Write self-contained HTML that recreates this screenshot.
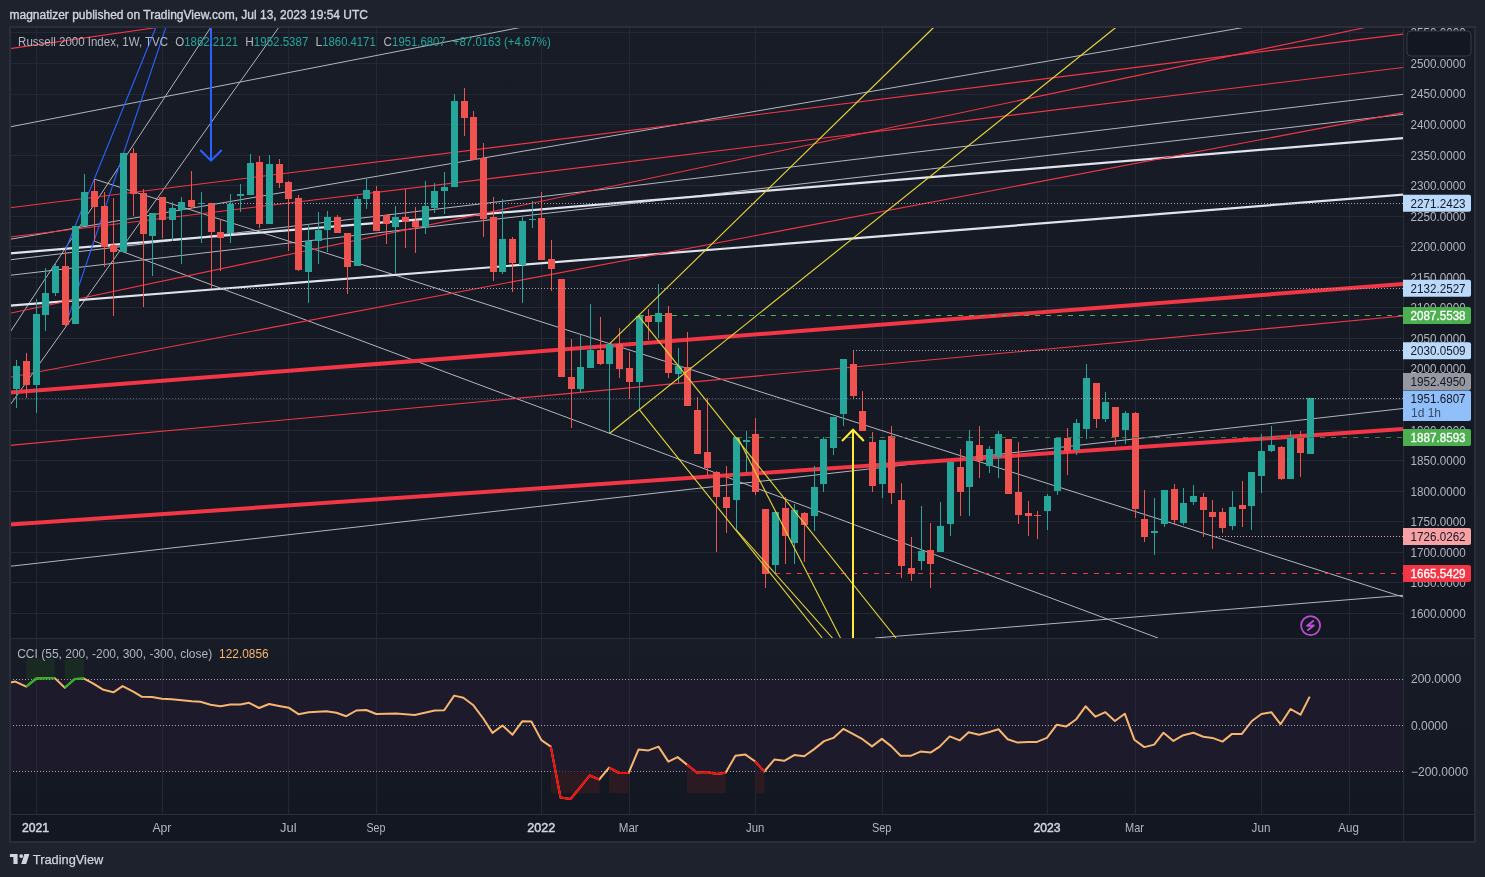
<!DOCTYPE html>
<html><head><meta charset="utf-8"><title>Russell 2000 Index chart</title>
<style>html,body{margin:0;padding:0;background:#1e222d;width:1485px;height:877px;overflow:hidden}svg{display:block}</style>
</head><body>
<svg width="1485" height="877" viewBox="0 0 1485 877"><rect x="0" y="0" width="1485" height="877" fill="#1e222d"/>
<defs><linearGradient id="gm" x1="0" y1="0" x2="0" y2="1"><stop offset="0" stop-color="#181c27"/><stop offset="1" stop-color="#131722"/></linearGradient></defs>
<rect x="9" y="26" width="1466" height="816" fill="#131722"/>
<rect x="10" y="27" width="1465" height="611" fill="url(#gm)"/>
<rect x="10" y="639" width="1465" height="175" fill="url(#gm)"/>
<rect x="10" y="679.1" width="1393" height="92.2" fill="#1d1a2c"/>
<g stroke="#242834" stroke-width="1" shape-rendering="crispEdges">
<line x1="36.5" y1="27" x2="36.5" y2="638"/>
<line x1="36.5" y1="639" x2="36.5" y2="814"/>
<line x1="162.5" y1="27" x2="162.5" y2="638"/>
<line x1="162.5" y1="639" x2="162.5" y2="814"/>
<line x1="288.5" y1="27" x2="288.5" y2="638"/>
<line x1="288.5" y1="639" x2="288.5" y2="814"/>
<line x1="376.5" y1="27" x2="376.5" y2="638"/>
<line x1="376.5" y1="639" x2="376.5" y2="814"/>
<line x1="541.5" y1="27" x2="541.5" y2="638"/>
<line x1="541.5" y1="639" x2="541.5" y2="814"/>
<line x1="629.5" y1="27" x2="629.5" y2="638"/>
<line x1="629.5" y1="639" x2="629.5" y2="814"/>
<line x1="755.5" y1="27" x2="755.5" y2="638"/>
<line x1="755.5" y1="639" x2="755.5" y2="814"/>
<line x1="882.5" y1="27" x2="882.5" y2="638"/>
<line x1="882.5" y1="639" x2="882.5" y2="814"/>
<line x1="1047.5" y1="27" x2="1047.5" y2="638"/>
<line x1="1047.5" y1="639" x2="1047.5" y2="814"/>
<line x1="1135.5" y1="27" x2="1135.5" y2="638"/>
<line x1="1135.5" y1="639" x2="1135.5" y2="814"/>
<line x1="1261.5" y1="27" x2="1261.5" y2="638"/>
<line x1="1261.5" y1="639" x2="1261.5" y2="814"/>
<line x1="1349.5" y1="27" x2="1349.5" y2="638"/>
<line x1="1349.5" y1="639" x2="1349.5" y2="814"/>
<line x1="10" y1="613.5" x2="1403" y2="613.5"/>
<line x1="10" y1="582.5" x2="1403" y2="582.5"/>
<line x1="10" y1="552.5" x2="1403" y2="552.5"/>
<line x1="10" y1="521.5" x2="1403" y2="521.5"/>
<line x1="10" y1="491.5" x2="1403" y2="491.5"/>
<line x1="10" y1="460.5" x2="1403" y2="460.5"/>
<line x1="10" y1="430.5" x2="1403" y2="430.5"/>
<line x1="10" y1="399.5" x2="1403" y2="399.5"/>
<line x1="10" y1="369.5" x2="1403" y2="369.5"/>
<line x1="10" y1="338.5" x2="1403" y2="338.5"/>
<line x1="10" y1="307.5" x2="1403" y2="307.5"/>
<line x1="10" y1="277.5" x2="1403" y2="277.5"/>
<line x1="10" y1="246.5" x2="1403" y2="246.5"/>
<line x1="10" y1="216.5" x2="1403" y2="216.5"/>
<line x1="10" y1="185.5" x2="1403" y2="185.5"/>
<line x1="10" y1="155.5" x2="1403" y2="155.5"/>
<line x1="10" y1="124.5" x2="1403" y2="124.5"/>
<line x1="10" y1="94.5" x2="1403" y2="94.5"/>
<line x1="10" y1="63.5" x2="1403" y2="63.5"/>
<line x1="10" y1="32.5" x2="1403" y2="32.5"/>
</g>
<defs><clipPath id="mp"><rect x="10" y="27" width="1393" height="611"/></clipPath><clipPath id="cp"><rect x="10" y="639" width="1393" height="175"/></clipPath></defs>
<g clip-path="url(#mp)">
<line x1="10.0" y1="126.9" x2="520.0" y2="27.5" stroke="#b2b5be" stroke-width="1" />
<line x1="10.0" y1="239.3" x2="1243.4" y2="27.5" stroke="#b2b5be" stroke-width="1" />
<line x1="10.0" y1="259.8" x2="1403.0" y2="94.3" stroke="#b2b5be" stroke-width="1" />
<line x1="10.0" y1="275.3" x2="1403.0" y2="114.4" stroke="#b2b5be" stroke-width="1" />
<line x1="10.0" y1="332.3" x2="211.0" y2="27.0" stroke="#b2b5be" stroke-width="1" />
<line x1="10.0" y1="405.2" x2="278.8" y2="27.4" stroke="#b2b5be" stroke-width="1" />
<line x1="94.1" y1="179.0" x2="1403.0" y2="597.0" stroke="#b2b5be" stroke-width="1" />
<line x1="94.1" y1="241.0" x2="1158.0" y2="638.0" stroke="#b2b5be" stroke-width="1" />
<line x1="10.0" y1="566.3" x2="1403.0" y2="408.5" stroke="#b2b5be" stroke-width="1" />
<line x1="875.0" y1="638.0" x2="1403.0" y2="595.3" stroke="#b2b5be" stroke-width="1" />
<line x1="10.0" y1="253.3" x2="1403.0" y2="138.1" stroke="#e0e3eb" stroke-width="2.2" />
<line x1="10.0" y1="305.6" x2="1403.0" y2="194.6" stroke="#e0e3eb" stroke-width="2.2" />
<line x1="10.0" y1="48.6" x2="160.5" y2="27.0" stroke="#f23645" stroke-width="1.1" />
<line x1="10.0" y1="207.7" x2="1403.0" y2="34.1" stroke="#f23645" stroke-width="1.1" />
<line x1="10.0" y1="237.0" x2="1403.0" y2="67.5" stroke="#f23645" stroke-width="1.1" />
<line x1="10.0" y1="313.3" x2="1366.6" y2="27.2" stroke="#f23645" stroke-width="1.1" />
<line x1="10.0" y1="377.3" x2="1403.0" y2="112.6" stroke="#f23645" stroke-width="1.1" />
<line x1="10.0" y1="445.4" x2="1403.0" y2="316.0" stroke="#f23645" stroke-width="1.1" />
<line x1="10.0" y1="392.6" x2="1403.0" y2="284.0" stroke="#f23645" stroke-width="4" />
<line x1="10.0" y1="524.6" x2="1403.0" y2="429.0" stroke="#f23645" stroke-width="4" />
<line x1="65.4" y1="250.0" x2="155.9" y2="27.5" stroke="#2962ff" stroke-width="1.1" />
<line x1="65.4" y1="326.0" x2="165.8" y2="27.5" stroke="#2962ff" stroke-width="1.1" />
<line x1="211.0" y1="27.0" x2="211.0" y2="160.0" stroke="#2962ff" stroke-width="2" />
<polyline points="200.3,150 211,160.6 221.7,150" fill="none" stroke="#2962ff" stroke-width="2"/>
</g>
<rect x="16" y="360" width="1" height="48" fill="#26a69a"/>
<rect x="13" y="366" width="7" height="23" fill="#26a69a"/>
<rect x="26" y="353" width="1" height="45" fill="#ef5350"/>
<rect x="23" y="361" width="7" height="24" fill="#ef5350"/>
<rect x="36" y="299" width="1" height="114" fill="#26a69a"/>
<rect x="33" y="314" width="7" height="71" fill="#26a69a"/>
<rect x="45" y="268" width="1" height="63" fill="#26a69a"/>
<rect x="42" y="293" width="7" height="22" fill="#26a69a"/>
<rect x="55" y="263" width="1" height="33" fill="#26a69a"/>
<rect x="52" y="266" width="7" height="27" fill="#26a69a"/>
<rect x="65" y="250" width="1" height="76" fill="#ef5350"/>
<rect x="62" y="266" width="7" height="59" fill="#ef5350"/>
<rect x="75" y="226" width="1" height="98" fill="#26a69a"/>
<rect x="72" y="226" width="7" height="98" fill="#26a69a"/>
<rect x="84" y="174" width="1" height="52" fill="#26a69a"/>
<rect x="81" y="192" width="7" height="34" fill="#26a69a"/>
<rect x="94" y="179" width="1" height="62" fill="#ef5350"/>
<rect x="91" y="191" width="7" height="16" fill="#ef5350"/>
<rect x="104" y="192" width="1" height="75" fill="#ef5350"/>
<rect x="101" y="206" width="7" height="41" fill="#ef5350"/>
<rect x="113" y="198" width="1" height="118" fill="#ef5350"/>
<rect x="110" y="245" width="7" height="7" fill="#ef5350"/>
<rect x="123" y="153" width="1" height="99" fill="#26a69a"/>
<rect x="120" y="153" width="7" height="99" fill="#26a69a"/>
<rect x="133" y="148" width="1" height="68" fill="#ef5350"/>
<rect x="130" y="153" width="7" height="41" fill="#ef5350"/>
<rect x="143" y="189" width="1" height="118" fill="#ef5350"/>
<rect x="140" y="193" width="7" height="41" fill="#ef5350"/>
<rect x="152" y="213" width="1" height="63" fill="#26a69a"/>
<rect x="149" y="213" width="7" height="23" fill="#26a69a"/>
<rect x="162" y="197" width="1" height="41" fill="#ef5350"/>
<rect x="159" y="197" width="7" height="23" fill="#ef5350"/>
<rect x="172" y="202" width="1" height="39" fill="#26a69a"/>
<rect x="169" y="208" width="7" height="12" fill="#26a69a"/>
<rect x="181" y="197" width="1" height="67" fill="#26a69a"/>
<rect x="178" y="202" width="7" height="8" fill="#26a69a"/>
<rect x="191" y="171" width="1" height="38" fill="#ef5350"/>
<rect x="188" y="200" width="7" height="7" fill="#ef5350"/>
<rect x="201" y="192" width="1" height="51" fill="#26a69a"/>
<rect x="198" y="203" width="7" height="1" fill="#26a69a"/>
<rect x="211" y="203" width="1" height="85" fill="#ef5350"/>
<rect x="208" y="203" width="7" height="29" fill="#ef5350"/>
<rect x="220" y="219" width="1" height="52" fill="#ef5350"/>
<rect x="217" y="232" width="7" height="6" fill="#ef5350"/>
<rect x="230" y="194" width="1" height="49" fill="#26a69a"/>
<rect x="227" y="204" width="7" height="29" fill="#26a69a"/>
<rect x="240" y="184" width="1" height="28" fill="#26a69a"/>
<rect x="237" y="194" width="7" height="2" fill="#26a69a"/>
<rect x="250" y="154" width="1" height="41" fill="#26a69a"/>
<rect x="247" y="163" width="7" height="32" fill="#26a69a"/>
<rect x="259" y="156" width="1" height="72" fill="#ef5350"/>
<rect x="256" y="162" width="7" height="62" fill="#ef5350"/>
<rect x="269" y="155" width="1" height="69" fill="#26a69a"/>
<rect x="266" y="164" width="7" height="60" fill="#26a69a"/>
<rect x="279" y="159" width="1" height="29" fill="#ef5350"/>
<rect x="276" y="164" width="7" height="19" fill="#ef5350"/>
<rect x="288" y="181" width="1" height="70" fill="#ef5350"/>
<rect x="285" y="182" width="7" height="17" fill="#ef5350"/>
<rect x="298" y="195" width="1" height="76" fill="#ef5350"/>
<rect x="295" y="198" width="7" height="72" fill="#ef5350"/>
<rect x="308" y="224" width="1" height="79" fill="#26a69a"/>
<rect x="305" y="241" width="7" height="31" fill="#26a69a"/>
<rect x="318" y="212" width="1" height="52" fill="#26a69a"/>
<rect x="315" y="230" width="7" height="11" fill="#26a69a"/>
<rect x="327" y="211" width="1" height="41" fill="#26a69a"/>
<rect x="324" y="217" width="7" height="13" fill="#26a69a"/>
<rect x="337" y="215" width="1" height="18" fill="#ef5350"/>
<rect x="334" y="217" width="7" height="16" fill="#ef5350"/>
<rect x="347" y="233" width="1" height="61" fill="#ef5350"/>
<rect x="344" y="233" width="7" height="34" fill="#ef5350"/>
<rect x="357" y="196" width="1" height="70" fill="#26a69a"/>
<rect x="354" y="199" width="7" height="67" fill="#26a69a"/>
<rect x="366" y="179" width="1" height="30" fill="#26a69a"/>
<rect x="363" y="190" width="7" height="9" fill="#26a69a"/>
<rect x="376" y="186" width="1" height="45" fill="#ef5350"/>
<rect x="373" y="191" width="7" height="40" fill="#ef5350"/>
<rect x="386" y="215" width="1" height="29" fill="#ef5350"/>
<rect x="383" y="215" width="7" height="9" fill="#ef5350"/>
<rect x="395" y="206" width="1" height="68" fill="#26a69a"/>
<rect x="392" y="217" width="7" height="10" fill="#26a69a"/>
<rect x="405" y="189" width="1" height="59" fill="#ef5350"/>
<rect x="402" y="217" width="7" height="5" fill="#ef5350"/>
<rect x="415" y="207" width="1" height="46" fill="#ef5350"/>
<rect x="412" y="221" width="7" height="6" fill="#ef5350"/>
<rect x="425" y="181" width="1" height="53" fill="#26a69a"/>
<rect x="422" y="206" width="7" height="21" fill="#26a69a"/>
<rect x="434" y="183" width="1" height="30" fill="#26a69a"/>
<rect x="431" y="191" width="7" height="17" fill="#26a69a"/>
<rect x="444" y="172" width="1" height="42" fill="#26a69a"/>
<rect x="441" y="187" width="7" height="4" fill="#26a69a"/>
<rect x="454" y="94" width="1" height="93" fill="#26a69a"/>
<rect x="451" y="101" width="7" height="86" fill="#26a69a"/>
<rect x="464" y="88" width="1" height="48" fill="#ef5350"/>
<rect x="461" y="101" width="7" height="17" fill="#ef5350"/>
<rect x="473" y="111" width="1" height="49" fill="#ef5350"/>
<rect x="470" y="117" width="7" height="43" fill="#ef5350"/>
<rect x="483" y="143" width="1" height="94" fill="#ef5350"/>
<rect x="480" y="158" width="7" height="61" fill="#ef5350"/>
<rect x="493" y="197" width="1" height="84" fill="#ef5350"/>
<rect x="490" y="217" width="7" height="55" fill="#ef5350"/>
<rect x="502" y="199" width="1" height="75" fill="#26a69a"/>
<rect x="499" y="239" width="7" height="33" fill="#26a69a"/>
<rect x="512" y="237" width="1" height="55" fill="#ef5350"/>
<rect x="509" y="239" width="7" height="24" fill="#ef5350"/>
<rect x="522" y="217" width="1" height="86" fill="#26a69a"/>
<rect x="519" y="221" width="7" height="44" fill="#26a69a"/>
<rect x="532" y="201" width="1" height="27" fill="#26a69a"/>
<rect x="529" y="219" width="7" height="1" fill="#26a69a"/>
<rect x="541" y="192" width="1" height="68" fill="#ef5350"/>
<rect x="538" y="218" width="7" height="42" fill="#ef5350"/>
<rect x="551" y="240" width="1" height="51" fill="#ef5350"/>
<rect x="548" y="259" width="7" height="10" fill="#ef5350"/>
<rect x="561" y="279" width="1" height="98" fill="#ef5350"/>
<rect x="558" y="279" width="7" height="98" fill="#ef5350"/>
<rect x="571" y="339" width="1" height="89" fill="#ef5350"/>
<rect x="568" y="377" width="7" height="12" fill="#ef5350"/>
<rect x="580" y="335" width="1" height="57" fill="#26a69a"/>
<rect x="577" y="367" width="7" height="22" fill="#26a69a"/>
<rect x="590" y="304" width="1" height="64" fill="#26a69a"/>
<rect x="587" y="350" width="7" height="18" fill="#26a69a"/>
<rect x="600" y="317" width="1" height="48" fill="#ef5350"/>
<rect x="597" y="350" width="7" height="14" fill="#ef5350"/>
<rect x="609" y="343" width="1" height="91" fill="#26a69a"/>
<rect x="606" y="344" width="7" height="20" fill="#26a69a"/>
<rect x="619" y="328" width="1" height="50" fill="#ef5350"/>
<rect x="616" y="344" width="7" height="25" fill="#ef5350"/>
<rect x="629" y="352" width="1" height="47" fill="#ef5350"/>
<rect x="626" y="368" width="7" height="14" fill="#ef5350"/>
<rect x="639" y="316" width="1" height="94" fill="#26a69a"/>
<rect x="636" y="316" width="7" height="66" fill="#26a69a"/>
<rect x="648" y="309" width="1" height="31" fill="#ef5350"/>
<rect x="645" y="316" width="7" height="6" fill="#ef5350"/>
<rect x="658" y="284" width="1" height="54" fill="#26a69a"/>
<rect x="655" y="313" width="7" height="9" fill="#26a69a"/>
<rect x="668" y="306" width="1" height="72" fill="#ef5350"/>
<rect x="665" y="313" width="7" height="60" fill="#ef5350"/>
<rect x="678" y="348" width="1" height="35" fill="#26a69a"/>
<rect x="675" y="366" width="7" height="8" fill="#26a69a"/>
<rect x="687" y="332" width="1" height="74" fill="#ef5350"/>
<rect x="684" y="367" width="7" height="39" fill="#ef5350"/>
<rect x="697" y="397" width="1" height="57" fill="#ef5350"/>
<rect x="694" y="410" width="7" height="44" fill="#ef5350"/>
<rect x="707" y="398" width="1" height="78" fill="#ef5350"/>
<rect x="704" y="452" width="7" height="16" fill="#ef5350"/>
<rect x="716" y="471" width="1" height="81" fill="#ef5350"/>
<rect x="713" y="472" width="7" height="25" fill="#ef5350"/>
<rect x="726" y="466" width="1" height="67" fill="#ef5350"/>
<rect x="723" y="497" width="7" height="11" fill="#ef5350"/>
<rect x="736" y="437" width="1" height="93" fill="#26a69a"/>
<rect x="733" y="437" width="7" height="63" fill="#26a69a"/>
<rect x="746" y="431" width="1" height="42" fill="#26a69a"/>
<rect x="743" y="440" width="7" height="2" fill="#26a69a"/>
<rect x="755" y="418" width="1" height="77" fill="#ef5350"/>
<rect x="752" y="434" width="7" height="58" fill="#ef5350"/>
<rect x="765" y="509" width="1" height="79" fill="#ef5350"/>
<rect x="762" y="509" width="7" height="65" fill="#ef5350"/>
<rect x="775" y="512" width="1" height="61" fill="#26a69a"/>
<rect x="772" y="512" width="7" height="53" fill="#26a69a"/>
<rect x="785" y="497" width="1" height="67" fill="#ef5350"/>
<rect x="782" y="508" width="7" height="28" fill="#ef5350"/>
<rect x="794" y="504" width="1" height="60" fill="#26a69a"/>
<rect x="791" y="510" width="7" height="33" fill="#26a69a"/>
<rect x="804" y="512" width="1" height="50" fill="#ef5350"/>
<rect x="801" y="513" width="7" height="12" fill="#ef5350"/>
<rect x="814" y="466" width="1" height="65" fill="#26a69a"/>
<rect x="811" y="487" width="7" height="29" fill="#26a69a"/>
<rect x="823" y="437" width="1" height="55" fill="#26a69a"/>
<rect x="820" y="439" width="7" height="45" fill="#26a69a"/>
<rect x="833" y="417" width="1" height="38" fill="#26a69a"/>
<rect x="830" y="417" width="7" height="31" fill="#26a69a"/>
<rect x="843" y="359" width="1" height="67" fill="#26a69a"/>
<rect x="840" y="359" width="7" height="55" fill="#26a69a"/>
<rect x="853" y="350" width="1" height="48" fill="#ef5350"/>
<rect x="850" y="364" width="7" height="32" fill="#ef5350"/>
<rect x="862" y="391" width="1" height="40" fill="#ef5350"/>
<rect x="859" y="411" width="7" height="20" fill="#ef5350"/>
<rect x="872" y="432" width="1" height="60" fill="#ef5350"/>
<rect x="869" y="442" width="7" height="44" fill="#ef5350"/>
<rect x="882" y="440" width="1" height="58" fill="#26a69a"/>
<rect x="879" y="440" width="7" height="44" fill="#26a69a"/>
<rect x="891" y="426" width="1" height="78" fill="#ef5350"/>
<rect x="888" y="436" width="7" height="57" fill="#ef5350"/>
<rect x="901" y="483" width="1" height="95" fill="#ef5350"/>
<rect x="898" y="500" width="7" height="66" fill="#ef5350"/>
<rect x="911" y="537" width="1" height="44" fill="#ef5350"/>
<rect x="908" y="568" width="7" height="6" fill="#ef5350"/>
<rect x="921" y="506" width="1" height="64" fill="#26a69a"/>
<rect x="918" y="551" width="7" height="10" fill="#26a69a"/>
<rect x="930" y="523" width="1" height="65" fill="#ef5350"/>
<rect x="927" y="550" width="7" height="14" fill="#ef5350"/>
<rect x="940" y="502" width="1" height="50" fill="#26a69a"/>
<rect x="937" y="526" width="7" height="26" fill="#26a69a"/>
<rect x="950" y="462" width="1" height="74" fill="#26a69a"/>
<rect x="947" y="462" width="7" height="62" fill="#26a69a"/>
<rect x="960" y="449" width="1" height="67" fill="#ef5350"/>
<rect x="957" y="467" width="7" height="25" fill="#ef5350"/>
<rect x="969" y="430" width="1" height="86" fill="#26a69a"/>
<rect x="966" y="441" width="7" height="46" fill="#26a69a"/>
<rect x="979" y="426" width="1" height="52" fill="#ef5350"/>
<rect x="976" y="445" width="7" height="16" fill="#ef5350"/>
<rect x="989" y="446" width="1" height="27" fill="#26a69a"/>
<rect x="986" y="449" width="7" height="17" fill="#26a69a"/>
<rect x="998" y="431" width="1" height="47" fill="#26a69a"/>
<rect x="995" y="434" width="7" height="23" fill="#26a69a"/>
<rect x="1008" y="439" width="1" height="55" fill="#ef5350"/>
<rect x="1005" y="439" width="7" height="55" fill="#ef5350"/>
<rect x="1018" y="442" width="1" height="82" fill="#ef5350"/>
<rect x="1015" y="492" width="7" height="23" fill="#ef5350"/>
<rect x="1028" y="501" width="1" height="35" fill="#ef5350"/>
<rect x="1025" y="513" width="7" height="3" fill="#ef5350"/>
<rect x="1037" y="511" width="1" height="28" fill="#ef5350"/>
<rect x="1034" y="515" width="7" height="1" fill="#ef5350"/>
<rect x="1047" y="494" width="1" height="36" fill="#26a69a"/>
<rect x="1044" y="496" width="7" height="15" fill="#26a69a"/>
<rect x="1057" y="438" width="1" height="57" fill="#26a69a"/>
<rect x="1054" y="438" width="7" height="53" fill="#26a69a"/>
<rect x="1067" y="428" width="1" height="47" fill="#ef5350"/>
<rect x="1064" y="438" width="7" height="13" fill="#ef5350"/>
<rect x="1076" y="419" width="1" height="36" fill="#26a69a"/>
<rect x="1073" y="423" width="7" height="27" fill="#26a69a"/>
<rect x="1086" y="364" width="1" height="75" fill="#26a69a"/>
<rect x="1083" y="378" width="7" height="51" fill="#26a69a"/>
<rect x="1096" y="383" width="1" height="45" fill="#ef5350"/>
<rect x="1093" y="383" width="7" height="36" fill="#ef5350"/>
<rect x="1105" y="392" width="1" height="30" fill="#26a69a"/>
<rect x="1102" y="402" width="7" height="17" fill="#26a69a"/>
<rect x="1115" y="407" width="1" height="38" fill="#ef5350"/>
<rect x="1112" y="407" width="7" height="30" fill="#ef5350"/>
<rect x="1125" y="411" width="1" height="33" fill="#26a69a"/>
<rect x="1122" y="413" width="7" height="17" fill="#26a69a"/>
<rect x="1135" y="412" width="1" height="106" fill="#ef5350"/>
<rect x="1132" y="413" width="7" height="96" fill="#ef5350"/>
<rect x="1144" y="490" width="1" height="52" fill="#ef5350"/>
<rect x="1141" y="519" width="7" height="18" fill="#ef5350"/>
<rect x="1154" y="498" width="1" height="57" fill="#26a69a"/>
<rect x="1151" y="531" width="7" height="2" fill="#26a69a"/>
<rect x="1164" y="490" width="1" height="37" fill="#26a69a"/>
<rect x="1161" y="490" width="7" height="34" fill="#26a69a"/>
<rect x="1174" y="484" width="1" height="41" fill="#ef5350"/>
<rect x="1171" y="489" width="7" height="31" fill="#ef5350"/>
<rect x="1183" y="488" width="1" height="37" fill="#26a69a"/>
<rect x="1180" y="503" width="7" height="20" fill="#26a69a"/>
<rect x="1193" y="485" width="1" height="20" fill="#26a69a"/>
<rect x="1190" y="496" width="7" height="6" fill="#26a69a"/>
<rect x="1203" y="493" width="1" height="44" fill="#ef5350"/>
<rect x="1200" y="497" width="7" height="13" fill="#ef5350"/>
<rect x="1212" y="500" width="1" height="49" fill="#ef5350"/>
<rect x="1209" y="512" width="7" height="5" fill="#ef5350"/>
<rect x="1222" y="508" width="1" height="25" fill="#ef5350"/>
<rect x="1219" y="512" width="7" height="16" fill="#ef5350"/>
<rect x="1232" y="491" width="1" height="39" fill="#26a69a"/>
<rect x="1229" y="507" width="7" height="19" fill="#26a69a"/>
<rect x="1242" y="481" width="1" height="46" fill="#ef5350"/>
<rect x="1239" y="505" width="7" height="4" fill="#ef5350"/>
<rect x="1251" y="472" width="1" height="58" fill="#26a69a"/>
<rect x="1248" y="472" width="7" height="34" fill="#26a69a"/>
<rect x="1261" y="434" width="1" height="59" fill="#26a69a"/>
<rect x="1258" y="451" width="7" height="25" fill="#26a69a"/>
<rect x="1271" y="426" width="1" height="26" fill="#26a69a"/>
<rect x="1268" y="445" width="7" height="6" fill="#26a69a"/>
<rect x="1281" y="446" width="1" height="34" fill="#ef5350"/>
<rect x="1278" y="447" width="7" height="32" fill="#ef5350"/>
<rect x="1290" y="431" width="1" height="48" fill="#26a69a"/>
<rect x="1287" y="437" width="7" height="42" fill="#26a69a"/>
<rect x="1300" y="431" width="1" height="46" fill="#ef5350"/>
<rect x="1297" y="438" width="7" height="15" fill="#ef5350"/>
<rect x="1310" y="398" width="1" height="56" fill="#26a69a"/>
<rect x="1307" y="398" width="7" height="56" fill="#26a69a"/>
<g clip-path="url(#mp)">
<line x1="10" y1="398.5" x2="1403" y2="398.5" stroke="#90bff9" stroke-width="1" stroke-dasharray="1 2" opacity="0.42" shape-rendering="crispEdges"/>
<line x1="211" y1="203.5" x2="1403" y2="203.5" stroke="#a3a6af" stroke-width="1" stroke-dasharray="1 2" opacity="1" shape-rendering="crispEdges"/>
<line x1="211" y1="288.5" x2="1403" y2="288.5" stroke="#a3a6af" stroke-width="1" stroke-dasharray="1 2" opacity="1" shape-rendering="crispEdges"/>
<line x1="639" y1="315.5" x2="1403" y2="315.5" stroke="#4caf50" stroke-width="1" stroke-dasharray="5 6" opacity="1" shape-rendering="crispEdges"/>
<line x1="853" y1="350.5" x2="1403" y2="350.5" stroke="#a3a6af" stroke-width="1" stroke-dasharray="1 2" opacity="1" shape-rendering="crispEdges"/>
<line x1="853" y1="398.5" x2="1403" y2="398.5" stroke="#a3a6af" stroke-width="1" stroke-dasharray="1 2" opacity="1" shape-rendering="crispEdges"/>
<line x1="737" y1="437.5" x2="1403" y2="437.5" stroke="#3d7a3f" stroke-width="1" stroke-dasharray="5 6" opacity="1" shape-rendering="crispEdges"/>
<line x1="1212.5" y1="536.5" x2="1403" y2="536.5" stroke="#f7a1a1" stroke-width="1" stroke-dasharray="1 2" opacity="1" shape-rendering="crispEdges"/>
<line x1="775" y1="573.5" x2="1403" y2="573.5" stroke="#f23645" stroke-width="1" stroke-dasharray="5 6" opacity="1" shape-rendering="crispEdges"/>
<line x1="609.5" y1="433.5" x2="1115.8" y2="27.5" stroke="#e8d838" stroke-width="1.1" />
<line x1="609.5" y1="343.9" x2="933.6" y2="27.5" stroke="#e8d838" stroke-width="1.1" />
<line x1="638.2" y1="315.6" x2="896.0" y2="638.0" stroke="#e8d838" stroke-width="1.1" />
<line x1="639.3" y1="409.6" x2="822.2" y2="638.0" stroke="#e8d838" stroke-width="1.1" />
<line x1="737.7" y1="437.6" x2="840.5" y2="638.0" stroke="#e8d838" stroke-width="1.1" />
<line x1="736.4" y1="530.0" x2="832.5" y2="638.0" stroke="#e8d838" stroke-width="1.1" />
<line x1="853.0" y1="638.0" x2="853.0" y2="430.5" stroke="#ffeb3b" stroke-width="2" />
<polyline points="842,441 853,429.8 863.8,441" fill="none" stroke="#ffeb3b" stroke-width="2"/>
</g>
<circle cx="1310.6" cy="625.6" r="9.5" fill="none" stroke="#bb4fd4" stroke-width="1.8"/>
<path d="M1313.2 620.9 L1307.1 625.7 L1313.8 625.5 L1308 630.1" fill="none" stroke="#bb4fd4" stroke-width="1.9" stroke-linejoin="round" stroke-linecap="round"/>
<g clip-path="url(#cp)">
<line x1="10" y1="679.5" x2="1403" y2="679.5" stroke="#a3a6af" stroke-width="1" stroke-dasharray="1 2" shape-rendering="crispEdges"/>
<line x1="10" y1="725.5" x2="1403" y2="725.5" stroke="#a3a6af" stroke-width="1" stroke-dasharray="1 2" shape-rendering="crispEdges"/>
<line x1="10" y1="771.5" x2="1403" y2="771.5" stroke="#a3a6af" stroke-width="1" stroke-dasharray="1 2" shape-rendering="crispEdges"/>
<rect x="26.2" y="658.7" width="28.6" height="20.4" fill="#182a22"/>
<rect x="64.8" y="658.7" width="19.2" height="20.4" fill="#182a22"/>
<rect x="550.8" y="771.3" width="48.9" height="21.9" fill="#2c1a22"/>
<rect x="609.1" y="771.3" width="19.5" height="21.9" fill="#2c1a22"/>
<rect x="686.9" y="771.3" width="38.8" height="21.9" fill="#2c1a22"/>
<rect x="755.4" y="771.3" width="9.4" height="21.9" fill="#2c1a22"/>
<polyline points="10.5,682.4 15.4,681.6 26.2,686.6 36.1,678.6 54.8,678.1 64.8,687.8 74.7,678.9 84,678.6 93.4,683.6 103.4,689.8 113.4,692.3 122.6,686.1 133.3,691.6 142,696.8 152,697.1 161.9,698.8 171.9,699.3 181.9,700.3 191.8,701.3 200.5,701.8 210.5,704.8 220.5,706.3 230.4,704.5 240.4,704.5 249.1,702.8 259.1,708 269.1,704 279,706 289,707.8 298.5,714.2 308.9,712.2 326.4,711.2 336.3,712.7 346.3,716.2 356.3,710.5 366.2,710 376.2,714 396.1,713.5 414.8,715 434.7,710.5 444.2,710.3 454.2,695.6 463.4,697.8 473.4,705.3 483.3,718.5 492.5,732.9 502.5,725.5 512.5,734.7 522.4,721.2 531.4,721.5 541.4,740.1 550.8,746.6 560.5,797.5 570.5,799 580.5,787 589.7,775.5 599.2,779.5 609.1,767.6 619.1,773 628.6,773 638.5,749.6 648.5,750.4 658.5,746.6 668.4,761.6 677.6,757.1 686.9,764.6 696.8,772.5 706.8,772 716.8,774 725.6,772.8 735.4,755.8 745.4,754.6 754.9,761.3 764.3,771.5 774.3,759.6 784.3,760.8 794.2,755.1 804.2,756.3 814.2,749.1 824.1,741.1 833.4,737.9 843.3,728.9 853.3,734.2 862.5,739.2 872,746.4 881.9,738.9 891.4,746.4 900.6,755.8 910.6,755.8 920.5,751.6 930.5,752.6 939.7,746.6 949.7,736.4 959.7,740.4 968.6,732.2 979.1,734.7 988.6,732.2 998.5,729.2 1007.7,739.2 1017.7,742.6 1027.7,742.1 1036.9,741.9 1046.9,737.9 1056.8,724.7 1066.3,726.4 1076.3,719.2 1085.6,706.3 1095.4,716.7 1105.4,712.2 1114.9,721 1124.8,713.7 1134.3,739.7 1144.3,747.1 1154.2,744.6 1163.5,732.7 1173.4,740.9 1183.4,735.2 1193.4,732.7 1203.3,736.7 1212.5,737.9 1222.5,741.6 1232,733.9 1241.9,733.9 1251.9,721 1261.4,714 1271.3,712.2 1280.5,724.2 1290.5,709 1300.5,714.7 1309.7,696.6" fill="none" stroke="#f7b570" stroke-width="2" stroke-linejoin="round"/>
<polyline points="26.2,686.6 36.1,678.6 54.8,678.1" fill="none" stroke="#22b41e" stroke-width="2" stroke-linejoin="round"/>
<polyline points="64.8,687.8 74.7,678.9 84,678.6" fill="none" stroke="#22b41e" stroke-width="2" stroke-linejoin="round"/>
<polyline points="550.8,746.6 560.5,797.5 570.5,799 580.5,787 589.7,775.5 599.2,779.5" fill="none" stroke="#f20c0c" stroke-width="2" stroke-linejoin="round"/>
<polyline points="609.1,767.6 619.1,773 628.6,773" fill="none" stroke="#f20c0c" stroke-width="2" stroke-linejoin="round"/>
<polyline points="686.9,764.6 696.8,772.5 706.8,772 716.8,774 725.6,772.8" fill="none" stroke="#f20c0c" stroke-width="2" stroke-linejoin="round"/>
<polyline points="754.9,761.3 764.3,771.5" fill="none" stroke="#f20c0c" stroke-width="2" stroke-linejoin="round"/>
</g>
<g stroke="#2a2e39" stroke-width="1" shape-rendering="crispEdges" fill="none">
<rect x="10" y="27" width="1465" height="815" stroke-width="2"/>
<line x1="1403.5" y1="26" x2="1403.5" y2="841"/>
<line x1="9" y1="638.5" x2="1475" y2="638.5"/>
<line x1="9" y1="814.5" x2="1475" y2="814.5"/>
</g>
<g font-family="'Liberation Sans', Arial, sans-serif" font-size="12" fill="#b2b5be">
<text x="1410.6" y="617.8" textLength="55.2" lengthAdjust="spacingAndGlyphs">1600.0000</text>
<text x="1410.6" y="587.2" textLength="55.2" lengthAdjust="spacingAndGlyphs">1650.0000</text>
<text x="1410.6" y="556.7" textLength="55.2" lengthAdjust="spacingAndGlyphs">1700.0000</text>
<text x="1410.6" y="526.1" textLength="55.2" lengthAdjust="spacingAndGlyphs">1750.0000</text>
<text x="1410.6" y="495.6" textLength="55.2" lengthAdjust="spacingAndGlyphs">1800.0000</text>
<text x="1410.6" y="465.0" textLength="55.2" lengthAdjust="spacingAndGlyphs">1850.0000</text>
<text x="1410.6" y="434.5" textLength="55.2" lengthAdjust="spacingAndGlyphs">1900.0000</text>
<text x="1410.6" y="403.9" textLength="55.2" lengthAdjust="spacingAndGlyphs">1950.0000</text>
<text x="1410.6" y="373.4" textLength="55.2" lengthAdjust="spacingAndGlyphs">2000.0000</text>
<text x="1410.6" y="342.8" textLength="55.2" lengthAdjust="spacingAndGlyphs">2050.0000</text>
<text x="1410.6" y="312.2" textLength="55.2" lengthAdjust="spacingAndGlyphs">2100.0000</text>
<text x="1410.6" y="281.7" textLength="55.2" lengthAdjust="spacingAndGlyphs">2150.0000</text>
<text x="1410.6" y="251.1" textLength="55.2" lengthAdjust="spacingAndGlyphs">2200.0000</text>
<text x="1410.6" y="220.6" textLength="55.2" lengthAdjust="spacingAndGlyphs">2250.0000</text>
<text x="1410.6" y="190.0" textLength="55.2" lengthAdjust="spacingAndGlyphs">2300.0000</text>
<text x="1410.6" y="159.5" textLength="55.2" lengthAdjust="spacingAndGlyphs">2350.0000</text>
<text x="1410.6" y="128.9" textLength="55.2" lengthAdjust="spacingAndGlyphs">2400.0000</text>
<text x="1410.6" y="98.4" textLength="55.2" lengthAdjust="spacingAndGlyphs">2450.0000</text>
<text x="1410.6" y="67.8" textLength="55.2" lengthAdjust="spacingAndGlyphs">2500.0000</text>
<text x="1410.6" y="37.3" textLength="55.2" lengthAdjust="spacingAndGlyphs">2550.0000</text>
<text x="1411" y="683.4">200.0000</text>
<text x="1411" y="729.5">0.0000</text>
<text x="1411" y="775.6">−200.0000</text>
</g>
<rect x="1407" y="31" width="64" height="25" rx="4" fill="#131722" stroke="#363a45" stroke-width="1"/>
<path d="M1403 194.8 h66 a2 2 0 0 1 2 2 v13 a2 2 0 0 1 -2 2 h-66 z" fill="#bbd9fb"/>
<text x="1410.6" y="207.6" font-family="'Liberation Sans', Arial, sans-serif" font-size="12" fill="#131722" textLength="55" lengthAdjust="spacingAndGlyphs">2271.2423</text>
<path d="M1403 279.7 h66 a2 2 0 0 1 2 2 v13 a2 2 0 0 1 -2 2 h-66 z" fill="#bbd9fb"/>
<text x="1410.6" y="292.5" font-family="'Liberation Sans', Arial, sans-serif" font-size="12" fill="#131722" textLength="55" lengthAdjust="spacingAndGlyphs">2132.2527</text>
<path d="M1403 307.1 h66 a2 2 0 0 1 2 2 v13 a2 2 0 0 1 -2 2 h-66 z" fill="#4caf50"/>
<text x="1410.6" y="319.9" font-family="'Liberation Sans', Arial, sans-serif" font-size="12" fill="#ffffff" stroke="#ffffff" stroke-width="0.3" textLength="55" lengthAdjust="spacingAndGlyphs">2087.5538</text>
<path d="M1403 342.2 h66 a2 2 0 0 1 2 2 v13 a2 2 0 0 1 -2 2 h-66 z" fill="#bbd9fb"/>
<text x="1410.6" y="355.0" font-family="'Liberation Sans', Arial, sans-serif" font-size="12" fill="#131722" textLength="55" lengthAdjust="spacingAndGlyphs">2030.0509</text>
<path d="M1403 373.1 h66 a2 2 0 0 1 2 2 v13 a2 2 0 0 1 -2 2 h-66 z" fill="#9598a1"/>
<text x="1410.6" y="385.9" font-family="'Liberation Sans', Arial, sans-serif" font-size="12" fill="#131722" textLength="55" lengthAdjust="spacingAndGlyphs">1952.4950</text>
<path d="M1403 390.5 h66 a2 2 0 0 1 2 2 v26.5 a2 2 0 0 1 -2 2 h-66 z" fill="#90bff9"/>
<text x="1410.6" y="402.5" font-family="'Liberation Sans', Arial, sans-serif" font-size="12" fill="#131722" textLength="55" lengthAdjust="spacingAndGlyphs">1951.6807</text>
<text x="1411" y="416.8" font-family="'Liberation Sans', Arial, sans-serif" font-size="12" fill="#3a4a66">1d 1h</text>
<path d="M1403 429.1 h66 a2 2 0 0 1 2 2 v13 a2 2 0 0 1 -2 2 h-66 z" fill="#4caf50"/>
<text x="1410.6" y="441.9" font-family="'Liberation Sans', Arial, sans-serif" font-size="12" fill="#ffffff" stroke="#ffffff" stroke-width="0.3" textLength="55" lengthAdjust="spacingAndGlyphs">1887.8593</text>
<path d="M1403 528.0 h66 a2 2 0 0 1 2 2 v13 a2 2 0 0 1 -2 2 h-66 z" fill="#f7a1a4"/>
<text x="1410.6" y="540.8" font-family="'Liberation Sans', Arial, sans-serif" font-size="12" fill="#131722" textLength="55" lengthAdjust="spacingAndGlyphs">1726.0262</text>
<path d="M1403 564.9 h66 a2 2 0 0 1 2 2 v13 a2 2 0 0 1 -2 2 h-66 z" fill="#f23645"/>
<text x="1410.6" y="577.7" font-family="'Liberation Sans', Arial, sans-serif" font-size="12" fill="#ffffff" stroke="#ffffff" stroke-width="0.3" textLength="55" lengthAdjust="spacingAndGlyphs">1665.5429</text>
<text x="21.9" y="832.3" font-family="'Liberation Sans', Arial, sans-serif" font-size="12.6" fill="#d1d4dc" stroke="#d1d4dc" stroke-width="0.5" textLength="27.1" lengthAdjust="spacingAndGlyphs">2021</text>
<text x="152.4" y="832.3" font-family="'Liberation Sans', Arial, sans-serif" font-size="12.6" fill="#b2b5be" textLength="19" lengthAdjust="spacingAndGlyphs">Apr</text>
<text x="280.1" y="832.3" font-family="'Liberation Sans', Arial, sans-serif" font-size="12.6" fill="#b2b5be" textLength="16.6" lengthAdjust="spacingAndGlyphs">Jul</text>
<text x="366.4" y="832.3" font-family="'Liberation Sans', Arial, sans-serif" font-size="12.6" fill="#b2b5be" textLength="19" lengthAdjust="spacingAndGlyphs">Sep</text>
<text x="527.3" y="832.3" font-family="'Liberation Sans', Arial, sans-serif" font-size="12.6" fill="#d1d4dc" stroke="#d1d4dc" stroke-width="0.5" textLength="27.9" lengthAdjust="spacingAndGlyphs">2022</text>
<text x="618.8" y="832.3" font-family="'Liberation Sans', Arial, sans-serif" font-size="12.6" fill="#b2b5be" textLength="19.9" lengthAdjust="spacingAndGlyphs">Mar</text>
<text x="746.1" y="832.3" font-family="'Liberation Sans', Arial, sans-serif" font-size="12.6" fill="#b2b5be" textLength="18.3" lengthAdjust="spacingAndGlyphs">Jun</text>
<text x="872.0" y="832.3" font-family="'Liberation Sans', Arial, sans-serif" font-size="12.6" fill="#b2b5be" textLength="19.4" lengthAdjust="spacingAndGlyphs">Sep</text>
<text x="1033.5" y="832.3" font-family="'Liberation Sans', Arial, sans-serif" font-size="12.6" fill="#d1d4dc" stroke="#d1d4dc" stroke-width="0.5" textLength="27" lengthAdjust="spacingAndGlyphs">2023</text>
<text x="1125.0" y="832.3" font-family="'Liberation Sans', Arial, sans-serif" font-size="12.6" fill="#b2b5be" textLength="19" lengthAdjust="spacingAndGlyphs">Mar</text>
<text x="1251.6" y="832.3" font-family="'Liberation Sans', Arial, sans-serif" font-size="12.6" fill="#b2b5be" textLength="18.8" lengthAdjust="spacingAndGlyphs">Jun</text>
<text x="1338.3" y="832.3" font-family="'Liberation Sans', Arial, sans-serif" font-size="12.6" fill="#b2b5be" textLength="20.5" lengthAdjust="spacingAndGlyphs">Aug</text>
<text x="9.5" y="19" font-family="'Liberation Sans', Arial, sans-serif" font-size="12" fill="#d1d4dc" stroke="#d1d4dc" stroke-width="0.35" textLength="358.5" lengthAdjust="spacingAndGlyphs">magnatizer published on TradingView.com, Jul 13, 2023 19:54 UTC</text>
<text x="18.1" y="45.6" font-family="'Liberation Sans', Arial, sans-serif" font-size="12" fill="#b2b5be" textLength="150" lengthAdjust="spacingAndGlyphs">Russell 2000 Index, 1W, TVC</text>
<text x="175.2" y="45.6" font-family="'Liberation Sans', Arial, sans-serif" font-size="12" fill="#b2b5be" textLength="9" lengthAdjust="spacingAndGlyphs">O</text>
<text x="184.2" y="45.6" font-family="'Liberation Sans', Arial, sans-serif" font-size="12" fill="#26a69a" textLength="54" lengthAdjust="spacingAndGlyphs">1862.2121</text>
<text x="245.2" y="45.6" font-family="'Liberation Sans', Arial, sans-serif" font-size="12" fill="#b2b5be" textLength="8.6" lengthAdjust="spacingAndGlyphs">H</text>
<text x="253.8" y="45.6" font-family="'Liberation Sans', Arial, sans-serif" font-size="12" fill="#26a69a" textLength="54.6" lengthAdjust="spacingAndGlyphs">1952.5387</text>
<text x="315.4" y="45.6" font-family="'Liberation Sans', Arial, sans-serif" font-size="12" fill="#b2b5be" textLength="6.8" lengthAdjust="spacingAndGlyphs">L</text>
<text x="322.3" y="45.6" font-family="'Liberation Sans', Arial, sans-serif" font-size="12" fill="#26a69a" textLength="53.4" lengthAdjust="spacingAndGlyphs">1860.4171</text>
<text x="383.6" y="45.6" font-family="'Liberation Sans', Arial, sans-serif" font-size="12" fill="#b2b5be" textLength="8.4" lengthAdjust="spacingAndGlyphs">C</text>
<text x="392.1" y="45.6" font-family="'Liberation Sans', Arial, sans-serif" font-size="12" fill="#26a69a" textLength="53.5" lengthAdjust="spacingAndGlyphs">1951.6807</text>
<text x="452.8" y="45.6" font-family="'Liberation Sans', Arial, sans-serif" font-size="12" fill="#26a69a" textLength="98" lengthAdjust="spacingAndGlyphs">+87.0163 (+4.67%)</text>
<text x="17.2" y="658" font-family="'Liberation Sans', Arial, sans-serif" font-size="12" fill="#b2b5be" textLength="195" lengthAdjust="spacingAndGlyphs">CCI (55, 200, -200, 300, -300, close)</text>
<text x="219.1" y="658" font-family="'Liberation Sans', Arial, sans-serif" font-size="12" fill="#f7b570" textLength="49.5" lengthAdjust="spacingAndGlyphs">122.0856</text>
<g fill="#d1d4dc"><path d="M9.9 853.9 H17.6 V864.1 H13.4 V857.1 H9.9 Z"/><circle cx="21.2" cy="856.1" r="1.9"/><path d="M24.4 853.9 H29.4 L26.2 864.1 H21.2 Z"/></g>
<text x="32.8" y="864.2" font-family="'Liberation Sans', Arial, sans-serif" font-size="12.8" fill="#d1d4dc" stroke="#d1d4dc" stroke-width="0.25" textLength="70.5" lengthAdjust="spacingAndGlyphs">TradingView</text></svg>
</body></html>
